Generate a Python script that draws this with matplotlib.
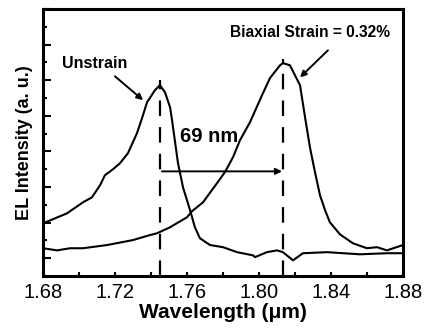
import matplotlib
matplotlib.use("Agg")
from matplotlib import pyplot as plt
from matplotlib.ticker import MultipleLocator

plt.rcParams['font.family'] = ['Liberation Sans', 'DejaVu Sans']

# unstrained EL spectrum
wl_unstrain = [1.6800, 1.6933, 1.7022, 1.7072, 1.7117, 1.7144, 1.7189, 1.7228, 1.7272,
               1.7322, 1.7350, 1.7378, 1.7422, 1.7450, 1.7478, 1.7506, 1.7517, 1.7550,
               1.7578, 1.7617, 1.7644, 1.7672, 1.7728, 1.7800, 1.7878, 1.7967, 1.7978,
               1.8044, 1.8100, 1.8133, 1.8189, 1.8244, 1.8378, 1.8561, 1.8711, 1.8800]
el_unstrain = [0.98, 1.26, 1.57, 1.71, 2.05, 2.33, 2.50, 2.67, 2.95,
               3.51, 3.93, 4.38, 4.72, 4.86, 4.66, 4.24, 3.88, 2.67,
               1.99, 1.35, 0.87, 0.56, 0.37, 0.31, 0.17, 0.08, 0.03,
               0.17, 0.22, 0.17, -0.06, 0.14, 0.17, 0.11, 0.14, 0.14]

# biaxially strained EL spectrum
wl_strain = [1.6800, 1.6878, 1.6950, 1.7022, 1.7156, 1.7300, 1.7394, 1.7433, 1.7506,
             1.7600, 1.7628, 1.7689, 1.7767, 1.7811, 1.7856, 1.7894, 1.7950, 1.8017,
             1.8061, 1.8117, 1.8133, 1.8172, 1.8228, 1.8256, 1.8283, 1.8311, 1.8339,
             1.8367, 1.8394, 1.8450, 1.8522, 1.8600, 1.8656, 1.8711, 1.8800]
el_strain = [0.28, 0.22, 0.28, 0.28, 0.37, 0.51, 0.65, 0.70, 0.87,
             1.15, 1.32, 1.57, 2.11, 2.42, 2.84, 3.31, 3.82, 4.58,
             5.06, 5.42, 5.48, 5.42, 4.86, 3.96, 3.12, 2.42, 1.77,
             1.35, 1.01, 0.67, 0.42, 0.28, 0.31, 0.22, 0.37]

peak_unstrain = 1.745
peak_strain = 1.8133

fig = plt.figure(figsize=(4.27, 3.30), dpi=100)
ax = fig.add_axes([0.1007, 0.1636, 0.843, 0.809])

ax.plot(wl_unstrain, el_unstrain, color='black', linewidth=1.5)
ax.plot(wl_strain, el_strain, color='black', linewidth=1.5)

ax.plot([peak_unstrain, peak_unstrain], [-0.5, 5.0], color='black', linewidth=1.6,
        dashes=(7, 5))
ax.plot([peak_strain, peak_strain], [-0.5, 5.6], color='black', linewidth=1.6,
        dashes=(7, 5))

ax.annotate('', xy=(1.8128, 2.44), xytext=(1.7461, 2.44),
            arrowprops=dict(arrowstyle='-|>', color='black', lw=1.4,
                            mutation_scale=9, shrinkA=0, shrinkB=0))
ax.annotate('', xy=(1.7356, 4.44), xytext=(1.7200, 5.11),
            arrowprops=dict(arrowstyle='-|>', color='black', lw=1.4,
                            mutation_scale=9, shrinkA=0, shrinkB=0))
ax.annotate('', xy=(1.8228, 5.08), xytext=(1.8383, 5.84),
            arrowprops=dict(arrowstyle='-|>', color='black', lw=1.4,
                            mutation_scale=9, shrinkA=0, shrinkB=0))

ax.text(1.7722, 3.43, '69 nm', fontsize=14.5, fontweight='bold', ha='center', va='center')
ax.text(1.7086, 5.46, 'Unstrain', fontsize=11.5, fontweight='bold', ha='center', va='center')
ax.text(1.8283, 6.35, 'Biaxial Strain = 0.32%', fontsize=11.2, fontweight='bold',
        ha='center', va='center')

ax.set_xlim(1.68, 1.88)
ax.set_ylim(-0.5, 7.0)
ax.set_xticks([1.68, 1.72, 1.76, 1.80, 1.84, 1.88])
ax.xaxis.set_minor_locator(MultipleLocator(0.02))
ax.yaxis.set_major_locator(MultipleLocator(1.0))
ax.yaxis.set_minor_locator(MultipleLocator(0.5))
ax.set_yticklabels([])
ax.tick_params(axis='x', which='both', direction='in', length=3, width=1.5,
               labelsize=14.5, pad=5, top=False)
ax.tick_params(axis='y', which='major', direction='in', length=6, width=1.5, right=False)
ax.tick_params(axis='y', which='minor', direction='in', length=3, width=1.5, right=False)
for side in ax.spines.values():
    side.set_linewidth(2.2)

ax.set_xlabel('Wavelength (\u03bcm)', fontsize=15, fontweight='bold', labelpad=1)
ax.set_ylabel('EL Intensity (a. u.)', fontsize=13, fontweight='bold', labelpad=4)

fig.savefig('out.png', dpi=100)
